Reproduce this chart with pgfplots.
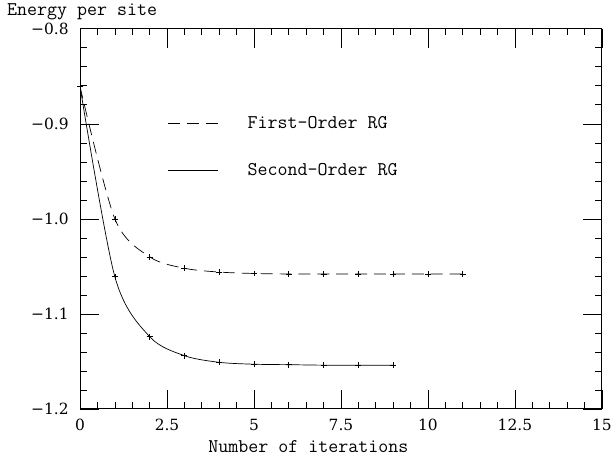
\documentclass[border=0pt]{standalone}
\usepackage{fontspec}
\usepackage{pgfplots}
\pgfplotsset{compat=1.18}
\newfontfamily\tickfont{DejaVu Serif}
\pgfplotstableread{
x y
0 -0.861
1 -1.000
2 -1.040
3 -1.052
4 -1.056
5 -1.0575
6 -1.058
7 -1.058
8 -1.058
9 -1.058
10 -1.058
11 -1.058
}\first
\pgfplotstableread{
x y
0 -0.861
1 -1.061
2 -1.124
3 -1.144
4 -1.151
5 -1.153
6 -1.1535
7 -1.154
8 -1.154
9 -1.154
}\second
\begin{document}
\begin{tikzpicture}
\begin{axis}[
  name=ax,
  width=524.5pt, height=382pt, scale only axis,
  xmin=0, xmax=15, ymin=-1.2, ymax=-0.8,
  xtick={0,2.5,5,7.5,10,12.5,15}, minor x tick num=4,
  xticklabels={0,2.5,5,7.5,10,12.5,15},
  ytick={-1.2,-1.1,-1.0,-0.9,-0.8}, minor y tick num=4,
  yticklabels={−1.2,−1.1,−1.0,−0.9,−0.8},
  tick align=inside,
  major tick length=19pt, minor tick length=6.5pt,
  tick style={line width=0.7pt, black},
  axis line style={line width=0.9pt},
  ticklabel style={font=\tickfont\fontsize{15.5}{17}\selectfont},
  yticklabel style={xshift=-8pt},
  xticklabel style={yshift=-6.5pt},
  xlabel={Number of iterations},
  xlabel style={font=\ttfamily\fontsize{19.5}{21}\selectfont, at={(rel axis cs:0.5,0)},
    anchor=base, xshift=-32.75pt, yshift=-44.3pt, inner sep=0pt},
  legend style={draw=none, fill=none, at={(axis cs:2.42,-0.9243)}, anchor=west,
    font=\ttfamily\fontsize{19.5}{21}\selectfont, row sep=34pt, column sep=30pt,
    nodes={inner sep=0pt}, cells={anchor=west}},
  legend image code/.code={\draw[#1] (0pt,0pt) -- (50pt,0pt);},
]
\addplot[black, line width=0.7pt, dash pattern=on 12pt off 7pt, smooth,
  mark=+, mark size=3pt, mark options={solid}, forget plot] table {\first};
\addplot[black, line width=0.7pt, smooth,
  mark=+, mark size=3pt, mark options={solid}, forget plot] table {\second};
\addlegendimage{black, line width=0.7pt, dash pattern=on 12pt off 7pt}
\addlegendentry{First-Order RG}
\addlegendimage{black, line width=0.7pt}
\addlegendentry{Second-Order RG}
\end{axis}
\node[anchor=base west, font=\ttfamily\fontsize{19.5}{21}\selectfont, inner sep=0pt]
  at ([xshift=-73.5pt, yshift=13pt]ax.north west) {Energy per site};
\path ([xshift=-80.5pt,yshift=-52pt]ax.south west) rectangle ([xshift=10pt,yshift=29pt]ax.north east);
\end{tikzpicture}
\end{document}
